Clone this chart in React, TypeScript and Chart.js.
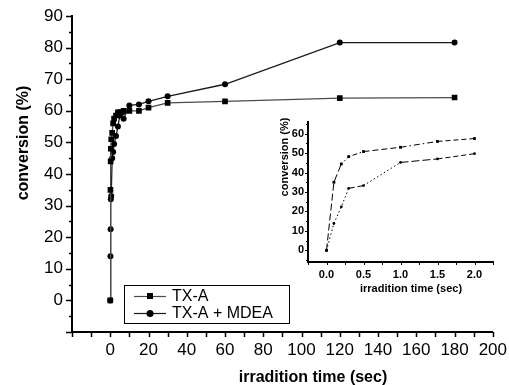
import React, { useEffect, useRef } from "react";
import { Chart, registerables } from "chart.js";

Chart.register(...registerables);

// ---------------- data ----------------
const seriesNames = ["TX-A", "TX-A + MDEA"];

const txaTime = [0, 0.1, 0.2, 0.3, 0.5, 1, 1.5, 2, 3, 4, 5, 6, 7, 10, 15, 20, 30, 60, 120, 180];
const txaConv = [0, 35, 44, 48, 51, 53, 56, 57.5, 58.5, 59.5, 59.5, 59.5, 60, 60, 60, 61, 62.5, 63, 64, 64.2];

const mdeaTime = [0, 0.1, 0.2, 0.3, 0.5, 1, 1.5, 2, 3, 4, 5, 7, 10, 15, 20, 30, 60, 120, 180];
const mdeaConv = [0, 14, 22.5, 32, 33, 45, 47, 49.5, 52, 55, 58.5, 57.5, 61.7, 62, 63, 64.6, 68.4, 81.6, 81.6];

const insetTime = [0, 0.1, 0.2, 0.3, 0.5, 1.0, 1.5, 2.0];
const insetTxa = [0, 35, 44.4, 48.2, 50.8, 53, 56, 57.5];
const insetMdea = [0, 13.8, 22.4, 31.9, 33.3, 45.2, 47, 49.7];

const mainXTicks = [0, 20, 40, 60, 80, 100, 120, 140, 160, 180, 200];
const mainYTicks = [0, 10, 20, 30, 40, 50, 60, 70, 80, 90];
const insetXTicks = [0, 0.5, 1.0, 1.5, 2.0];
const insetYTicks = [0, 10, 20, 30, 40, 50, 60];

const xTitle = "irradition time (sec)";
const yTitle = "conversion (%)";

// ---------------- styles ----------------
const insetTxaDash = [[7, 3], [7, 3], [1.5, 2.5], [1.5, 2.5, 5, 2.5], [6, 3], [6, 3, 1.5, 3], [5, 3]];
const insetMdeaDash = [[1.5, 2.5], [1.5, 2.5], [1.5, 2.5], [6, 3], [1.5, 2.5], [8, 3], [5, 3]];

const FONT = "'Liberation Sans', Arial, sans-serif";
const NARROW = "'Liberation Sans Narrow', 'Liberation Sans', Arial, sans-serif";

type DecorCfg = {
  xStep: number;
  xLen: number;
  yMajor: number;
  yMinor: number;
  yMajorLen: number;
  yMinorLen: number;
  tickWidth: number;
  titleFont: string;
  xTitleX: number;
  xTitleY: number;
  yTitleX: number;
  yTitleY: number;
};

function makeDecor(id: string, cfg: DecorCfg) {
  return {
    id,
    afterDraw(chart: any) {
      const { ctx, chartArea: a } = chart;
      const x = chart.scales.x;
      const y = chart.scales.y;
      ctx.save();
      ctx.strokeStyle = "#000";
      ctx.lineWidth = cfg.tickWidth;
      ctx.beginPath();
      for (let v = x.min; v <= x.max + 1e-9; v += cfg.xStep) {
        const px = Math.round(x.getPixelForValue(v)) + 0.5;
        ctx.moveTo(px, a.bottom);
        ctx.lineTo(px, a.bottom + cfg.xLen);
      }
      const start = Math.ceil(y.min / cfg.yMinor) * cfg.yMinor;
      for (let v = start; v <= y.max + 1e-9; v += cfg.yMinor) {
        const r = v / cfg.yMajor;
        const major = Math.abs(r - Math.round(r)) < 1e-6;
        const len = major ? cfg.yMajorLen : cfg.yMinorLen;
        const py = Math.round(y.getPixelForValue(v)) + 0.5;
        ctx.moveTo(a.left - len, py);
        ctx.lineTo(a.left, py);
      }
      ctx.stroke();
      ctx.fillStyle = "#000";
      ctx.font = cfg.titleFont;
      ctx.textAlign = "center";
      ctx.textBaseline = "middle";
      ctx.fillText(xTitle, cfg.xTitleX, cfg.xTitleY);
      ctx.translate(cfg.yTitleX, cfg.yTitleY);
      ctx.rotate(-Math.PI / 2);
      ctx.fillText(yTitle, 0, 0);
      ctx.restore();
    },
  };
}

const legendPlugin = {
  id: "boxLegend",
  afterDraw(chart: any) {
    const { ctx, chartArea: a } = chart;
    const left = a.left + 52;
    const top = a.bottom - 47;
    const w = 165;
    const h = 38;
    ctx.save();
    ctx.strokeStyle = "#000";
    ctx.lineWidth = 1;
    ctx.strokeRect(left + 0.5, top + 0.5, w, h);
    ctx.font = `16px ${FONT}`;
    ctx.textBaseline = "middle";
    ctx.textAlign = "left";
    chart.data.datasets.forEach((ds: any, i: number) => {
      const cy = top + 11 + i * 17;
      ctx.strokeStyle = ds.borderColor;
      ctx.lineWidth = 1.2;
      ctx.beginPath();
      ctx.moveTo(left + 10, cy + 0.5);
      ctx.lineTo(left + 42, cy + 0.5);
      ctx.stroke();
      ctx.fillStyle = "#000";
      if (ds.pointStyle === "rect") {
        ctx.fillRect(left + 23, cy - 3, 6, 6);
      } else {
        ctx.beginPath();
        ctx.arc(left + 26, cy + 0.5, 3.5, 0, Math.PI * 2);
        ctx.fill();
      }
      ctx.fillText(ds.label, left + 48, cy + 1);
    });
    ctx.restore();
  },
};

function pts(xs: number[], ys: number[]) {
  return xs.map((t, i) => ({ x: t, y: ys[i] }));
}

export default function App() {
  const mainRef = useRef<HTMLCanvasElement>(null);
  const insetRef = useRef<HTMLCanvasElement>(null);

  useEffect(() => {
    const tickFont = { family: FONT, size: 17 };
    const main = new Chart(mainRef.current as HTMLCanvasElement, {
      type: "line",
      data: {
        datasets: [
          {
            label: seriesNames[0],
            data: pts(txaTime, txaConv),
            borderColor: "#4a4a4a",
            borderWidth: 1.3,
            backgroundColor: "#000",
            pointBackgroundColor: "#000",
            pointBorderColor: "#000",
            pointStyle: "rect",
            pointRadius: 4,
            pointBorderWidth: 0,
            tension: 0,
          },
          {
            label: seriesNames[1],
            data: pts(mdeaTime, mdeaConv),
            borderColor: "#1a1a1a",
            borderWidth: 1.3,
            backgroundColor: "#000",
            pointBackgroundColor: "#000",
            pointBorderColor: "#000",
            pointStyle: "circle",
            pointRadius: 3,
            pointBorderWidth: 0,
            tension: 0,
          },
        ],
      },
      options: {
        animation: false,
        responsive: false,
        maintainAspectRatio: false,
        layout: { padding: { left: 0, right: 16, top: 16, bottom: 0 } },
        plugins: { legend: { display: false }, tooltip: { enabled: false } },
        scales: {
          x: {
            type: "linear",
            min: -20,
            max: 200,
            afterBuildTicks: (s: any) => {
              s.ticks = mainXTicks.map((v) => ({ value: v }));
            },
            afterFit: (s: any) => {
              s.height = 53;
            },
            grid: { display: true, drawOnChartArea: false, drawTicks: true, tickLength: 6, color: "rgba(0,0,0,0)" },
            border: { display: true, color: "#000", width: 2 },
            ticks: { color: "#000", font: tickFont, padding: 2, maxRotation: 0, autoSkip: false },
          },
          y: {
            type: "linear",
            min: -10,
            max: 90,
            afterBuildTicks: (s: any) => {
              s.ticks = mainYTicks.map((v) => ({ value: v }));
            },
            afterFit: (s: any) => {
              s.width = 72;
            },
            grid: { display: true, drawOnChartArea: false, drawTicks: true, tickLength: 6, color: "rgba(0,0,0,0)" },
            border: { display: true, color: "#000", width: 2 },
            ticks: { color: "#000", font: tickFont, padding: 3, autoSkip: false },
          },
        },
      },
      plugins: [
        makeDecor("mainDecor", {
          xStep: 10,
          xLen: 5,
          yMajor: 10,
          yMinor: 5,
          yMajorLen: 6,
          yMinorLen: 3,
          tickWidth: 1.5,
          titleFont: `bold 16px ${FONT}`,
          xTitleX: 313,
          xTitleY: 378,
          yTitleX: 24,
          yTitleY: 143,
        }),
        legendPlugin,
      ],
    } as any);

    const insetFont = { family: NARROW, size: 11, weight: "bold" as const };
    const inset = new Chart(insetRef.current as HTMLCanvasElement, {
      type: "line",
      data: {
        datasets: [
          {
            label: seriesNames[0],
            data: pts(insetTime, insetTxa),
            borderColor: "#000",
            borderWidth: 1,
            pointBackgroundColor: "#000",
            pointBorderColor: "#000",
            pointStyle: "rect",
            pointRadius: 2,
            pointBorderWidth: 0,
            segment: { borderDash: (c: any) => insetTxaDash[c.p0DataIndex] },
          },
          {
            label: seriesNames[1],
            data: pts(insetTime, insetMdea),
            borderColor: "#000",
            borderWidth: 1,
            pointBackgroundColor: "#000",
            pointBorderColor: "#000",
            pointStyle: "circle",
            pointRadius: 1.4,
            pointBorderWidth: 0,
            segment: { borderDash: (c: any) => insetMdeaDash[c.p0DataIndex] },
          },
        ],
      },
      options: {
        animation: false,
        responsive: false,
        maintainAspectRatio: false,
        layout: { padding: { left: 0, right: 12, top: 12, bottom: 0 } },
        plugins: { legend: { display: false }, tooltip: { enabled: false } },
        scales: {
          x: {
            type: "linear",
            min: -0.25,
            max: 2.25,
            afterBuildTicks: (s: any) => {
              s.ticks = insetXTicks.map((v) => ({ value: v }));
            },
            afterFit: (s: any) => {
              s.height = 43;
            },
            grid: { display: true, drawOnChartArea: false, drawTicks: true, tickLength: 3, color: "rgba(0,0,0,0)" },
            border: { display: true, color: "#000", width: 2 },
            ticks: {
              color: "#000",
              font: insetFont,
              padding: 3,
              maxRotation: 0,
              autoSkip: false,
              callback: (v: any) => Number(v).toFixed(1),
            },
          },
          y: {
            type: "linear",
            min: -6,
            max: 66,
            afterBuildTicks: (s: any) => {
              s.ticks = insetYTicks.map((v) => ({ value: v }));
            },
            afterFit: (s: any) => {
              s.width = 28;
            },
            grid: { display: true, drawOnChartArea: false, drawTicks: true, tickLength: 3, color: "rgba(0,0,0,0)" },
            border: { display: true, color: "#000", width: 2 },
            ticks: { color: "#000", font: insetFont, padding: 1, autoSkip: false },
          },
        },
      },
      plugins: [
        makeDecor("insetDecor", {
          xStep: 0.25,
          xLen: 3,
          yMajor: 10,
          yMinor: 5,
          yMajorLen: 3,
          yMinorLen: 2,
          tickWidth: 1,
          titleFont: `bold 11px ${NARROW}`,
          xTitleX: 131,
          xTitleY: 179,
          yTitleX: 5,
          yTitleY: 47,
        }),
      ],
    } as any);

    return () => {
      main.destroy();
      inset.destroy();
    };
  }, []);

  return (
    <div style={{ position: "fixed", left: 0, top: 0, width: 509, height: 385, background: "#fff" }}>
      <canvas
        ref={mainRef}
        width={509}
        height={385}
        style={{ position: "absolute", left: 0, top: 0, width: 509, height: 385 }}
      />
      <canvas
        ref={insetRef}
        width={225}
        height={195}
        style={{ position: "absolute", left: 280, top: 110, width: 225, height: 195 }}
      />
    </div>
  );
}
